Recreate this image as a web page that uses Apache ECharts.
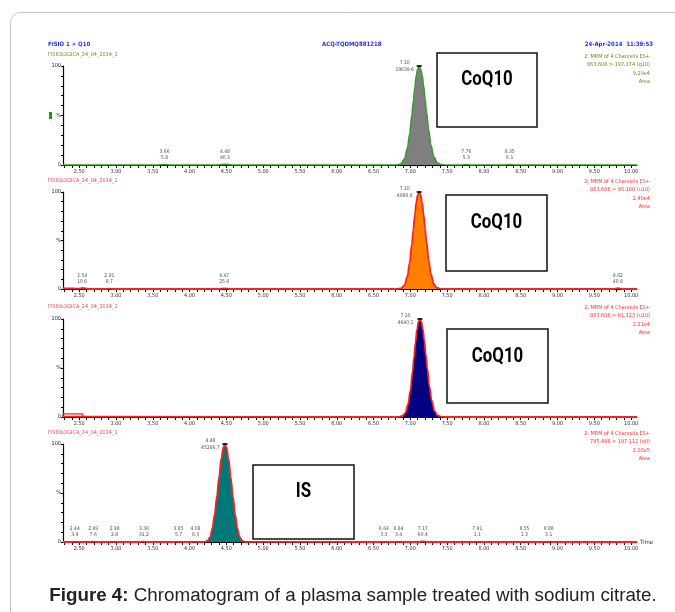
<!DOCTYPE html>
<html><head><meta charset="utf-8">
<script src="https://cdn.jsdelivr.net/npm/echarts@6/dist/echarts.min.js"></script>
<style>html,body{margin:0;padding:0;background:#fff}#c{width:675px;height:612px}</style>
</head><body><div id="c"></div>
<script>
// ---------- data ----------
const xTickLabels = ['2.50','3.00','3.50','4.00','4.50','5.00','5.50','6.00','6.50','7.00','7.50','8.00','8.50','9.00','9.50','10.00'];
const xMin = 2.28, xMax = 10.08;

// Panel 1: 863.608 > 197.174 (CoQ10)
const p1Time = [2.28, 3.58, 3.66, 3.74, 4.38, 4.48, 4.58, 6.80, 6.84, 6.87, 6.92, 6.96, 6.99, 7.02, 7.04, 7.06, 7.08, 7.10, 7.12, 7.14, 7.16, 7.18, 7.20, 7.22, 7.25, 7.28, 7.32, 7.37, 7.42, 7.48, 7.70, 7.76, 7.82, 8.28, 8.35, 8.42, 10.08];
const p1Int  = [0,    0,    0.4,  0,    0,    0.8,  0,    0,    0.2,  1.3,  6,    17,   31,   50,   64,   78,   90,   97,   100,  97,   91,   80,   67,   53,   35,   20,   8,    2,    0.4,  0,    0,    0.4,  0,    0,    0.4,  0,    0];
const p1LabelRT   = ['3.66','4.48','7.76','8.35'];
const p1LabelArea = ['5.8','90.3','5.3','6.1'];
const p1PeakRT = 7.12, p1PeakLabel = ['7.10','19639.6'];

// Panel 2: 863.608 > 95.180
const p2Time = [2.28, 2.34, 2.40, 2.46, 2.52, 2.55, 2.58, 2.64, 2.85, 2.91, 2.97, 4.40, 4.47, 4.54, 6.80, 6.84, 6.88, 6.92, 6.96, 6.99, 7.02, 7.04, 7.06, 7.08, 7.10, 7.12, 7.14, 7.16, 7.18, 7.20, 7.22, 7.25, 7.28, 7.32, 7.36, 7.41, 7.46, 9.76, 9.82, 9.88, 10.08];
const p2Int  = [0.8,  0.6,  0.7,  0.3,  0.6,  1.2,  0.5,  0,    0,    0.4,  0,    0,    0.6,  0,    0,    0.2,  1,    4,    13,   27,   46,   61,   76,   89,   97,   100,  97,   89,   77,   62,   48,   29,   15,   5,    1.3,  0.2,  0,    0,    1.0,  0,    0];
const p2LabelRT   = ['2.54','2.91','4.47','9.82'];
const p2LabelArea = ['10.6','8.7','25.8','40.8'];
const p2PeakRT = 7.12, p2PeakLabel = ['7.10','4066.6'];

// Panel 3: 863.608 > 81.123
const p3Time = [2.28, 2.60, 6.81, 6.85, 6.89, 6.93, 6.97, 7.00, 7.03, 7.05, 7.07, 7.09, 7.11, 7.13, 7.15, 7.17, 7.19, 7.21, 7.23, 7.26, 7.29, 7.33, 7.37, 7.42, 7.47, 10.08];
const p3Int  = [0.3,  0.3,  0,    0.2,  1,    4,    13,   27,   46,   61,   76,   89,   97,   100,  97,   90,   78,   64,   50,   31,   17,   6,    1.6,  0.3,  0,    0];
const p3StepTime = [2.28, 2.28, 2.55, 2.55];
const p3StepInt  = [0,    3.2,  3.2,  0.6];
const p3PeakRT = 7.13, p3PeakLabel = ['7.10','4640.1'];

// Panel 4: 795.498 > 197.112 (IS)
const p4Time = [2.28, 2.38, 2.44, 2.50, 2.63, 2.69, 2.75, 2.90, 2.96, 3.02, 3.30, 3.37, 3.44, 3.78, 3.85, 3.92, 4.02, 4.08, 4.14, 4.20, 4.24, 4.28, 4.31, 4.34, 4.37, 4.40, 4.43, 4.46, 4.48, 4.50, 4.53, 4.56, 4.59, 4.62, 4.65, 4.68, 4.72, 4.76, 6.58, 6.64, 6.70, 6.78, 6.84, 6.90, 7.10, 7.17, 7.24, 7.85, 7.91, 7.97, 8.49, 8.55, 8.61, 8.82, 8.88, 8.94, 10.08];
const p4Int  = [0,    0,    0.2,  0,    0,    0.3,  0,    0,    0.2,  0,    0,    0.4,  0,    0,    0.2,  0,    0,    0.2,  0,    0.1,  1,    5,    14,   28,   46,   66,   85,   97,   100,  97,   85,   66,   46,   28,   14,   5,    1,    0.1,  0,    0.2,  0,    0,    0.2,  0,    0,    0.5,  0,    0,    0.2,  0,    0,    0.2,  0,    0,    0.2,  0,    0];
const p4LabelRT   = ['2.44','2.69','2.98','3.38','3.85','4.08','6.64','6.84','7.17','7.91','8.55','8.88'];
const p4LabelArea = ['3.4','7.6','2.8','31.2','5.7','8.3','3.3','3.4','60.4','1.1','1.3','3.1'];
const p4PeakRT = 4.48, p4PeakLabel = ['4.48','45286.7'];

// header texts
const headLeft1 = 'FISIO 1 + Q10';
const headCenter = 'ACQ-TQDMQ881218';
const headRight = '24-Apr-2014  11:39:53';
const sampleName = 'FISIOLOGICA_24_04_2014_1';
const channelInfo = [
  ['2: MRM of 4 Channels ES+','863.608 > 197.174 (q10)','9.29e4','Area'],
  ['2: MRM of 4 Channels ES+','863.608 > 95.180 (u10)','2.40e4','Area'],
  ['2: MRM of 4 Channels ES+','863.608 > 81.123 (u10)','2.21e4','Area'],
  ['2: MRM of 4 Channels ES+','795.498 > 197.112 (u0)','2.03e5','Area']
];
const boxTexts = ['CoQ10','CoQ10','CoQ10','IS'];
const caption = ['Figure 4:', ' Chromatogram of a plasma sample treated with sodium citrate.'];

// ---------- layout ----------
const grids = [
  {top: 66, height: 99},
  {top: 192, height: 97},
  {top: 319, height: 98},
  {top: 444, height: 98}
];
const traceColors = ['#3a9a2e','#ff2020','#ff2020','#ff2020'];
const fillColors  = ['#7f7f7f','#ff8000','#000080','#007878'];
const sideColors  = ['#6b8a1a','#ff3030','#ff3030','#ff3030'];
const tinyFont = '"Liberation Sans Narrow","DejaVu Sans Condensed","Liberation Sans",sans-serif';

const minorTicks = [];
for (let v = 23; v <= 100; v++) minorTicks.push(v / 10);
const labelVals = xTickLabels.map(Number);

const chart = echarts.init(document.getElementById('c'), null, {renderer: 'canvas'});

const option = {
  animation: false,
  backgroundColor: '#fff',
  grid: grids.map(g => ({left: 63, right: 38, top: g.top, height: g.height})),
  xAxis: grids.map((g, i) => ({
    type: 'value', gridIndex: i, min: xMin, max: xMax,
    axisLine: {show: true, onZero: false, lineStyle: {color: '#000', width: 1}},
    axisTick: {show: true, customValues: minorTicks, length: 3, lineStyle: {color: '#000', width: 1}},
    axisLabel: {show: true, customValues: labelVals, formatter: v => v.toFixed(2), fontSize: 5.5, fontFamily: tinyFont, color: '#333', margin: 4},
    splitLine: {show: false},
    name: i === 3 ? 'Time' : '', nameLocation: 'end', nameGap: 3,
    nameTextStyle: {fontSize: 6, fontFamily: tinyFont, color: '#333'}
  })),
  yAxis: grids.map((g, i) => ({
    type: 'value', gridIndex: i, min: 0, max: 100, interval: 10,
    axisLine: {show: true, lineStyle: {color: '#000', width: 1.2}},
    axisTick: {show: true, length: 2, lineStyle: {color: '#000'}},
    axisLabel: {show: true, fontSize: 5.5, fontFamily: tinyFont, color: '#222', margin: 2,
      formatter: v => v === 100 ? '100' : (v === 0 ? '0' : (v === 50 ? '%' : ''))},
    splitLine: {show: false}
  })),
  series: [],
  graphic: []
};

const traces = [[p1Time,p1Int],[p2Time,p2Int],[p3Time,p3Int],[p4Time,p4Int]];
const peaks = [[p1PeakRT,p1PeakLabel],[p2PeakRT,p2PeakLabel],[p3PeakRT,p3PeakLabel],[p4PeakRT,p4PeakLabel]];
const smallLabels = [[p1LabelRT,p1LabelArea],[p2LabelRT,p2LabelArea],[[],[]],[p4LabelRT,p4LabelArea]];

traces.forEach((t, i) => {
  option.series.push({
    type: 'line', xAxisIndex: i, yAxisIndex: i,
    data: t[0].map((x, k) => [x, t[1][k]]),
    smooth: 0.4, smoothMonotone: 'x', showSymbol: false, symbol: 'none',
    lineStyle: {color: traceColors[i], width: i === 0 ? 1.6 : 1.8},
    areaStyle: {color: fillColors[i], opacity: 1, origin: 'start'},
    z: 3
  });
  option.series.push({
    type: 'scatter', xAxisIndex: i, yAxisIndex: i,
    data: [[peaks[i][0], 100]],
    symbol: 'rect', symbolSize: [5, 2], itemStyle: {color: '#000'},
    label: {show: true, position: 'left', distance: 2, formatter: peaks[i][1].join('\n'),
      fontSize: 5, lineHeight: 7, fontFamily: tinyFont, color: '#222', align: 'center', offset: [-10, 0]},
    z: 5
  });
  const sl = smallLabels[i];
  if (sl[0].length) {
    option.series.push({
      type: 'scatter', xAxisIndex: i, yAxisIndex: i,
      data: sl[0].map((rt, k) => ({value: [Number(rt), 0], name: rt + '\n' + sl[1][k]})),
      symbolSize: 0,
      label: {show: true, position: 'top', distance: 4, formatter: p => p.name,
        fontSize: 5, lineHeight: 6.5, fontFamily: tinyFont, color: '#222'},
      z: 5
    });
  }
});
option.series.push({
  type: 'line', xAxisIndex: 2, yAxisIndex: 2,
  data: p3StepTime.map((x, k) => [x, p3StepInt[k]]),
  showSymbol: false, symbol: 'none', lineStyle: {color: '#ff2020', width: 1.2}, z: 4
});

// frame
option.graphic.push({type: 'rect', shape: {x: 10.5, y: 12.5, width: 720, height: 660, r: 10},
  style: {fill: 'none', stroke: '#c4c4c4', lineWidth: 1}, z: 0, silent: true});

// header
const headFont = {fontSize: 6, fontFamily: tinyFont, fontWeight: 'bold'};
option.graphic.push({type: 'text', left: 48, top: 41, style: Object.assign({text: headLeft1, fill: '#2a2aff'}, headFont)});
option.graphic.push({type: 'text', left: 322, top: 41, style: Object.assign({text: headCenter, fill: '#2a2aff'}, headFont)});
option.graphic.push({type: 'text', right: 22, top: 41, style: Object.assign({text: headRight, fill: '#2a2aff', textAlign: 'right'}, headFont)});

const sampleTops = [52, 178, 304, 430];
const sampleColors = ['#7c8a1e','#ff4040','#ff4040','#ff4040'];
const infoTops = [52, 177, 303, 429];
sampleTops.forEach((y, i) => {
  option.graphic.push({type: 'text', left: 48, top: y,
    style: {text: sampleName, fill: sampleColors[i], fontSize: 5.5, fontFamily: tinyFont}});
  option.graphic.push({type: 'text', right: 25, top: infoTops[i],
    style: {text: channelInfo[i].join('\n'), fill: sideColors[i], fontSize: 5.5, lineHeight: 8.5,
      fontFamily: tinyFont, textAlign: 'right'}});
});

option.graphic.push({type: 'rect', shape: {x: 49, y: 112, width: 3, height: 7}, style: {fill: '#1a9a1a'}});

// annotation boxes
const boxes = [
  {x: 437, y: 53, w: 100, h: 74},
  {x: 446, y: 195, w: 101, h: 76},
  {x: 447, y: 329, w: 101, h: 74},
  {x: 253, y: 465, w: 101, h: 74}
];
const boxTextY = [80, 223, 357, 492];
boxes.forEach((b, i) => {
  option.graphic.push({type: 'rect', shape: {x: b.x, y: b.y, width: b.w, height: b.h},
    style: {fill: '#fff', stroke: '#111', lineWidth: 1.5}, z: 10});
  option.graphic.push({type: 'text', x: b.x + b.w / 2, y: boxTextY[i], z: 11, scaleX: 0.8,
    style: {text: boxTexts[i], fill: '#000', fontSize: 21, fontWeight: 'bold',
      fontFamily: '"Roboto","Open Sans",sans-serif', textAlign: 'center', textVerticalAlign: 'middle'}});
});

// caption
option.graphic.push({type: 'text', x: 353, y: 596,
  style: {text: '{b|' + caption[0] + '}' + caption[1], fill: '#222', fontSize: 18.8,
    fontFamily: '"Liberation Sans",Arial,sans-serif', textAlign: 'center', textVerticalAlign: 'middle',
    rich: {b: {fontWeight: 'bold', fontSize: 18.8, fontFamily: '"Liberation Sans",Arial,sans-serif', fill: '#222'}}}});

chart.setOption(option);
</script>
</body></html>
